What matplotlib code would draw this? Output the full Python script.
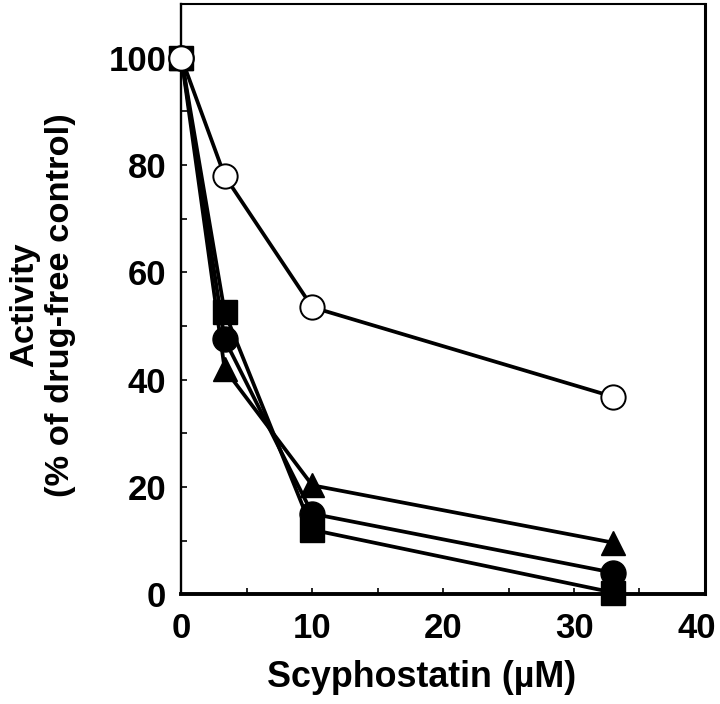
import matplotlib

matplotlib.use("Agg")
import matplotlib.pyplot as plt  # noqa: E402
from matplotlib.ticker import FuncFormatter, MultipleLocator  # noqa: E402

plt.rcParams["font.family"] = ["Liberation Sans", "DejaVu Sans"]
plt.rcParams["font.weight"] = "bold"

# scyphostatin concentration (uM)
conc = [0, 3.3, 10, 33]

# activity, % of drug-free control
open_circle = [100, 78, 53.5, 36.8]
triangle = [100, 42, 20.3, 9.6]
filled_circle = [100, 47.5, 15, 4.0]
square = [100, 52.6, 12, 0.3]

x_max = 40

fig = plt.figure(figsize=(7.2, 7.04), dpi=100)
ax = fig.add_axes([0.252, 0.156, 0.727, 0.838])

lw = 2.7
ax.plot(conc, filled_circle, "k-o", lw=lw, ms=18, clip_on=False, zorder=3)
ax.plot(conc, square, "k-s", lw=lw, ms=17, clip_on=False, zorder=4)
ax.plot(conc, triangle, "k-^", lw=lw, ms=17, clip_on=False, zorder=4)
ax.plot(conc, open_circle, "k-o", lw=lw, ms=17.5, mfc="white", mew=1.4,
        clip_on=False, zorder=5)

ax.set_xlim(0, x_max)
ax.set_ylim(0, 110)
ax.xaxis.set_major_locator(MultipleLocator(10))
ax.xaxis.set_minor_locator(MultipleLocator(5))
# the last label is nudged left of its tick, so it is drawn separately
ax.xaxis.set_major_formatter(FuncFormatter(lambda v, p: "" if v >= x_max else f"{v:g}"))
ax.set_yticks([0, 20, 40, 60, 80, 100])
ax.yaxis.set_minor_locator(MultipleLocator(10))
ax.tick_params(which="both", direction="in", width=1.2, length=4, labelsize=25)
ax.tick_params(axis="x", pad=13)
ax.tick_params(axis="y", pad=11)
ax.spines["bottom"].set_linewidth(2.8)
ax.spines["right"].set_linewidth(2.2)
ax.spines["left"].set_linewidth(1.7)
ax.spines["top"].set_linewidth(1.5)

ax.annotate(f"{x_max:g}", xy=(x_max, 0), xycoords=("data", "axes fraction"),
            xytext=(-6, -13), textcoords="offset points", ha="center", va="top",
            fontsize=25, fontweight="bold", annotation_clip=False)

fig.text(0.585, 0.024, "Scyphostatin (µM)", fontsize=25.8, fontweight="bold",
         ha="center", va="baseline")
fig.text(0.059, 0.567, "Activity\n(% of drug-free control)", fontsize=24.8,
         fontweight="bold", rotation=90, ha="center", va="center",
         multialignment="center")

fig.savefig("out.png", dpi=100)
